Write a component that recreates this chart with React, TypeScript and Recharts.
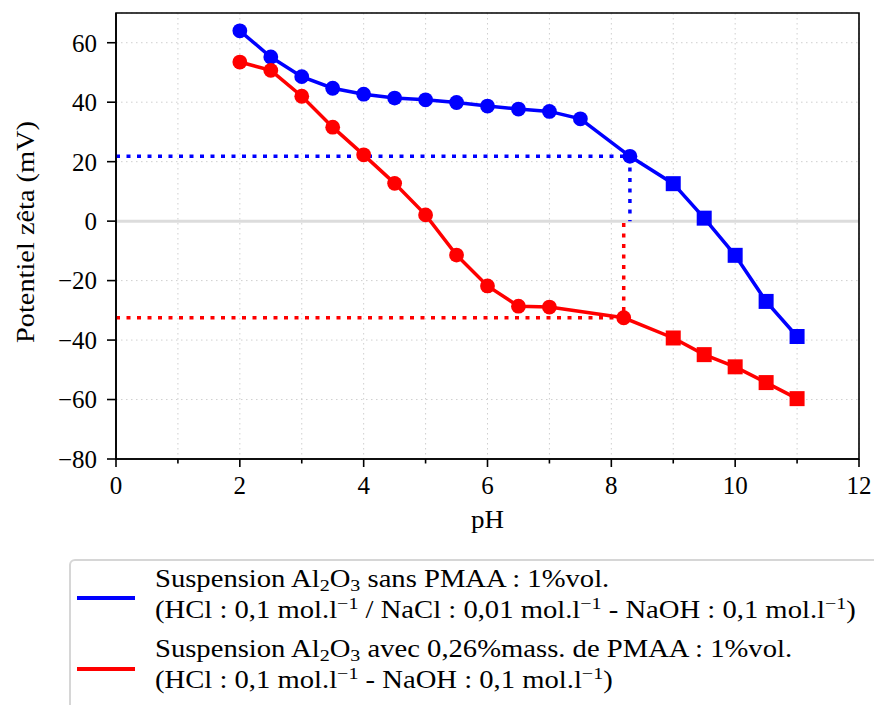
import React from 'react';
import {
  LineChart,
  Line,
  XAxis,
  YAxis,
  CartesianGrid,
  ReferenceLine,
  ReferenceArea,
  Legend,
} from 'recharts';

const FONT = '"Liberation Serif", "Times New Roman", serif';
const BLUE = '#0000ff';
const RED = '#ff0000';

// ---- data ----
const phBlue = [2, 2.5, 3, 3.5, 4, 4.5, 5, 5.5, 6, 6.5, 7, 7.5, 8.3, 9, 9.5, 10, 10.5, 11];
const zetaBlue = [64, 55.2, 48.6, 44.7, 42.7, 41.4, 40.8, 39.9, 38.7, 37.7, 36.9, 34.4, 21.8, 12.6, 1.0, -11.5, -27.0, -38.8];
const markerBlue = [
  'circle', 'circle', 'circle', 'circle', 'circle', 'circle', 'circle', 'circle', 'circle',
  'circle', 'circle', 'circle', 'circle', 'square', 'square', 'square', 'square', 'square',
];

const phRed = [2, 2.5, 3, 3.5, 4, 4.5, 5, 5.5, 6, 6.5, 7, 8.2, 9, 9.5, 10, 10.5, 11];
const zetaRed = [53.5, 50.7, 42.0, 31.6, 22.3, 12.7, 2.1, -11.4, -21.8, -28.6, -28.9, -32.5, -39.3, -44.9, -49.0, -54.3, -59.7];
const markerRed = [
  'circle', 'circle', 'circle', 'circle', 'circle', 'circle', 'circle', 'circle', 'circle',
  'circle', 'circle', 'circle', 'square', 'square', 'square', 'square', 'square',
];

const guideBluePh = [0, 8.3, 8.3];
const guideBlueZeta = [21.8, 21.8, 0];
const guideRedPh = [0, 8.2, 8.2];
const guideRedZeta = [-32.5, -32.5, 0];

const xTicks = [0, 1, 2, 3, 4, 5, 6, 7, 8, 9, 10, 11, 12];
const yTicks = [-80, -60, -40, -20, 0, 20, 40, 60];

const xLabel = 'pH';
const yLabel = 'Potentiel zêta (mV)';

const legendColors = [BLUE, RED];
const legendLines = [
  [
    'Suspension Al_{2}O_{3} sans PMAA : 1%vol.',
    '(HCl : 0,1 mol.l^{−1} / NaCl : 0,01 mol.l^{−1} - NaOH : 0,1 mol.l^{−1})',
  ],
  [
    'Suspension Al_{2}O_{3} avec 0,26%mass. de PMAA : 1%vol.',
    '(HCl : 0,1 mol.l^{−1} - NaOH : 0,1 mol.l^{−1})',
  ],
];

const build = (xs: number[], ys: number[], ms?: string[]) =>
  xs.map((x, i) => ({ ph: x, zeta: ys[i], marker: ms ? ms[i] : 'none' }));

const blueData = build(phBlue, zetaBlue, markerBlue);
const redData = build(phRed, zetaRed, markerRed);
const blueGuide = build(guideBluePh, guideBlueZeta);
const redGuide = build(guideRedPh, guideRedZeta);

const makeDot = (color: string) => (props: any) => {
  const { cx, cy, payload, index } = props;
  if (cx == null || cy == null) return <g key={`d-${index}`} />;
  if (payload.marker === 'square') {
    return <rect key={`d-${index}`} x={cx - 7.5} y={cy - 7.5} width={15} height={15} fill={color} stroke="none" />;
  }
  return <circle key={`d-${index}`} cx={cx} cy={cy} r={7.4} fill={color} stroke="none" />;
};

const fmtY = (v: number) => (v < 0 ? '\u2212' + Math.abs(v) : String(v));

const XTick = (props: any) => {
  const { x, y, payload } = props;
  const axisY = y - 8;
  const v = payload.value;
  const major = v % 2 === 0;
  return (
    <g>
      <line x1={x} x2={x} y1={axisY} y2={axisY + (major ? 8 : 4.5)} stroke="#000" strokeWidth={1.6} />
      {major && (
        <text x={x} y={axisY + 35} textAnchor="middle" fontSize={25} fontFamily={FONT} fill="#000">
          {v}
        </text>
      )}
    </g>
  );
};

const renderRich = (s: string) => {
  const out: any[] = [];
  const re = /([_^])\{([^}]*)\}/g;
  let last = 0;
  let m: RegExpExecArray | null;
  let k = 0;
  while ((m = re.exec(s)) !== null) {
    if (m.index > last) out.push(<span key={k++}>{s.slice(last, m.index)}</span>);
    const isSup = m[1] === '^';
    out.push(
      <span
        key={k++}
        style={{ fontSize: '0.7em', position: 'relative', top: isSup ? '-0.52em' : '0.24em' }}
      >
        {m[2]}
      </span>
    );
    last = m.index + m[0].length;
  }
  if (last < s.length) out.push(<span key={k++}>{s.slice(last)}</span>);
  return out;
};

const LegendBox = () => (
  <div
    style={{
      position: 'relative',
      width: 860,
      height: 200,
      border: '2px solid #d6d6d6',
      borderRadius: 6,
      background: '#fff',
      boxSizing: 'border-box',
      fontFamily: FONT,
      fontSize: 25,
      color: '#000',
    }}
  >
    {legendLines.map((lines, i) => (
      <React.Fragment key={i}>
        <div
          style={{
            position: 'absolute',
            left: 6,
            top: (i === 0 ? 598 : 669) - 559 - 2 - 1.75,
            width: 58,
            height: 3.5,
            background: legendColors[i],
          }}
        />
        {lines.map((t, j) => (
          <div
            key={j}
            style={{
              position: 'absolute',
              left: 155 - 69 - 2,
              top: (i === 0 ? 587 : 657) + j * 31 - 24 - 559 - 2,
              height: 31,
              lineHeight: '31px',
              whiteSpace: 'nowrap',
              transform: 'scaleX(1.145)',
              transformOrigin: '0 0',
            }}
          >
            {renderRich(t)}
          </div>
        ))}
      </React.Fragment>
    ))}
  </div>
);

export default function App() {
  return (
    <div
      style={{
        position: 'absolute',
        left: 0,
        top: 0,
        width: 874,
        height: 705,
        overflow: 'hidden',
        background: '#fff',
      }}
    >
      <LineChart width={874} height={705} margin={{ top: 13, right: 15, left: 0, bottom: 176 }}>
        <CartesianGrid stroke="#cfcfcf" strokeDasharray="1.5 3.5" strokeWidth={1} />
        <XAxis
          dataKey="ph"
          type="number"
          domain={[0, 12]}
          ticks={xTicks}
          interval={0}
          allowDataOverflow
          height={70}
          tickLine={false}
          tickSize={8}
          tickMargin={0}
          tick={<XTick />}
          axisLine={{ stroke: '#000', strokeWidth: 1.6 }}
          label={{
            content: (p: any) => {
              const vb = p.viewBox;
              return (
                <text
                  x={vb.x + vb.width / 2}
                  y={vb.y + 69}
                  textAnchor="middle"
                  fontSize={25}
                  fontFamily={FONT}
                  fill="#000"
                  textLength={33}
                  lengthAdjust="spacingAndGlyphs"
                >
                  {xLabel}
                </text>
              );
            },
          }}
        />
        <YAxis
          type="number"
          domain={[-80, 70]}
          ticks={yTicks}
          interval={0}
          allowDataOverflow
          width={116}
          tickSize={9}
          tickMargin={10}
          tickFormatter={fmtY}
          tick={{ fontSize: 25, fontFamily: FONT, fill: '#000' }}
          tickLine={{ stroke: '#000', strokeWidth: 1.6 }}
          axisLine={{ stroke: '#000', strokeWidth: 1.6 }}
          label={{
            content: (p: any) => {
              const vb = p.viewBox;
              const cx = vb.x + 25;
              const cy = 232;
              return (
                <text
                  x={cx}
                  y={cy}
                  transform={`rotate(-90 ${cx} ${cy})`}
                  textAnchor="middle"
                  dominantBaseline="central"
                  fontSize={25}
                  fontFamily={FONT}
                  fill="#000"
                  textLength={222}
                  lengthAdjust="spacingAndGlyphs"
                >
                  {yLabel}
                </text>
              );
            },
          }}
        />
        <ReferenceLine y={0} stroke="#dcdcdc" strokeWidth={3} zIndex={-50} />
        <ReferenceArea x1={0} x2={12} y1={-80} y2={70} fill="none" stroke="#000" strokeWidth={1.6} zIndex={-40} />
        <Line
          data={blueGuide}
          dataKey="zeta"
          stroke={BLUE}
          strokeWidth={3.5}
          strokeDasharray="4 6.5"
          dot={false}
          activeDot={false}
          isAnimationActive={false}
          legendType="none"
        />
        <Line
          data={redGuide}
          dataKey="zeta"
          stroke={RED}
          strokeWidth={3.5}
          strokeDasharray="4 6.5"
          dot={false}
          activeDot={false}
          isAnimationActive={false}
          legendType="none"
        />
        <Line
          data={blueData}
          dataKey="zeta"
          stroke={BLUE}
          strokeWidth={3.5}
          dot={makeDot(BLUE)}
          activeDot={false}
          isAnimationActive={false}
        />
        <Line
          data={redData}
          dataKey="zeta"
          stroke={RED}
          strokeWidth={3.5}
          dot={makeDot(RED)}
          activeDot={false}
          isAnimationActive={false}
        />
        <Legend
          layout="vertical"
          align="center"
          verticalAlign="middle"
          wrapperStyle={{ left: 69, top: 559, width: 860, height: 200 }}
          content={() => <LegendBox />}
        />
      </LineChart>
    </div>
  );
}
